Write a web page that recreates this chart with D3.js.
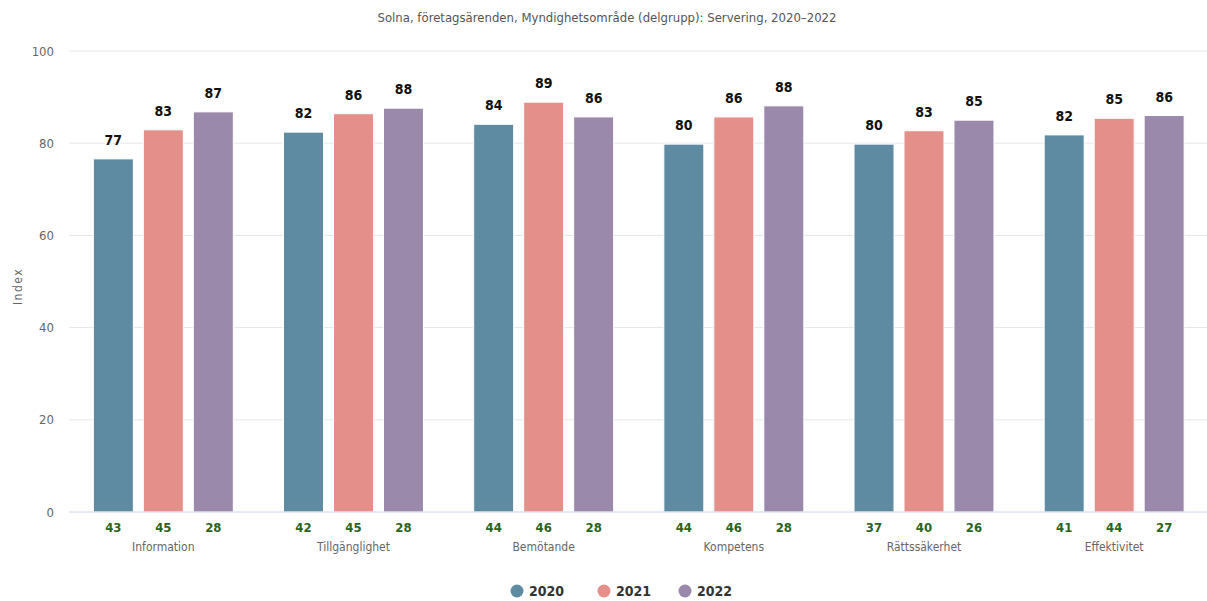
<!DOCTYPE html>
<html>
<head>
<meta charset="utf-8">
<script src="https://cdn.jsdelivr.net/npm/d3@7"></script>
<style>
  body { margin: 0; background: #fff; }
  text { font-family: "DejaVu Sans", sans-serif; font-stretch: condensed; }
</style>
</head>
<body>
<script>
// chart data
const categories = ["Information", "Tillgänglighet", "Bemötande", "Kompetens", "Rättssäkerhet", "Effektivitet"];
const years = ["2020", "2021", "2022"];
const values2020 = [76.6, 82.4, 84.1, 79.8, 79.8, 81.8];
const values2021 = [82.9, 86.4, 88.9, 85.7, 82.7, 85.4];
const values2022 = [86.8, 87.6, 85.7, 88.1, 85.0, 86.0];
const counts2020 = [43, 42, 44, 44, 37, 41];
const counts2021 = [45, 45, 46, 46, 40, 44];
const counts2022 = [28, 28, 28, 28, 26, 27];
const yTicks = [0, 20, 40, 60, 80, 100];
const colors = ["#5e8ba1", "#e58f8a", "#9b89ab"];

const seriesValues = [values2020, values2021, values2022];
const seriesCounts = [counts2020, counts2021, counts2022];

const width = 1207, height = 601;
const margin = { top: 51, right: -3, bottom: 89, left: 69 };
const plotW = width - margin.left - margin.right;
const plotH = height - margin.top - margin.bottom;

const svg = d3.select("body").append("svg")
    .attr("width", width)
    .attr("height", height);

// title
svg.append("text")
    .attr("x", 607)
    .attr("y", 22)
    .attr("text-anchor", "middle")
    .style("font-size", "13px")
    .style("fill", "#555")
    .text("Solna, företagsärenden, Myndighetsområde (delgrupp): Servering, 2020–2022");

const g = svg.append("g")
    .attr("transform", "translate(" + margin.left + "," + margin.top + ")");

const x0 = d3.scaleBand().domain(categories).range([0, plotW]);
const x1 = d3.scaleBand().domain(years)
    .range([x0.bandwidth() * 0.128, x0.bandwidth() * 0.864])
    .paddingInner(0.2);
const y = d3.scaleLinear().domain([0, 100]).range([plotH, 0]);

// grid lines
g.selectAll(".grid")
    .data(yTicks.filter(d => d > 0))
    .enter().append("line")
    .attr("x1", 0).attr("x2", plotW)
    .attr("y1", d => y(d)).attr("y2", d => y(d))
    .style("stroke", "#e6e6e6")
    .style("stroke-width", 1);

// y axis labels
g.selectAll(".ytick")
    .data(yTicks)
    .enter().append("text")
    .attr("x", -15)
    .attr("y", d => y(d))
    .attr("dy", "0.35em")
    .attr("text-anchor", "end")
    .style("font-size", "13px")
    .style("fill", "#666")
    .text(d => d);

// y axis title
svg.append("text")
    .attr("transform", "translate(22," + (margin.top + plotH / 2 + 5) + ") rotate(-90)")
    .attr("text-anchor", "middle")
    .style("font-size", "12px")
    .style("letter-spacing", "1.5px")
    .style("fill", "#666")
    .text("Index");

// bars
const rows = [];
categories.forEach((c, i) => {
    years.forEach((yr, j) => {
        rows.push({ cat: c, year: yr, value: seriesValues[j][i], count: seriesCounts[j][i], color: colors[j] });
    });
});

g.selectAll(".bar")
    .data(rows)
    .enter().append("rect")
    .attr("class", "bar")
    .attr("x", d => x0(d.cat) + x1(d.year))
    .attr("width", x1.bandwidth())
    .attr("y", d => y(d.value))
    .attr("height", d => plotH - y(d.value))
    .style("fill", d => d.color)
    .style("stroke", "#fff")
    .style("stroke-width", 1);

// value labels
g.selectAll(".vlabel")
    .data(rows)
    .enter().append("text")
    .attr("x", d => x0(d.cat) + x1(d.year) + x1.bandwidth() / 2)
    .attr("y", d => y(d.value) - 14)
    .attr("text-anchor", "middle")
    .style("font-size", "14px")
    .style("font-weight", "bold")
    .style("fill", "#111")
    .style("paint-order", "stroke")
    .style("stroke", "#fff")
    .style("stroke-width", 2)
    .text(d => Math.round(d.value));

// x axis line
g.append("line")
    .attr("x1", 0).attr("x2", plotW)
    .attr("y1", plotH).attr("y2", plotH)
    .style("stroke", "#ccd6eb")
    .style("stroke-width", 1);

// counts under bars
g.selectAll(".clabel")
    .data(rows)
    .enter().append("text")
    .attr("x", d => x0(d.cat) + x1(d.year) + x1.bandwidth() / 2)
    .attr("y", plotH + 20)
    .attr("text-anchor", "middle")
    .style("font-size", "13px")
    .style("font-weight", "bold")
    .style("fill", "#2b6420")
    .text(d => d.count);

// category labels
g.selectAll(".catlabel")
    .data(categories)
    .enter().append("text")
    .attr("x", d => x0(d) + x1("2021") + x1.bandwidth() / 2)
    .attr("y", plotH + 39)
    .attr("text-anchor", "middle")
    .style("font-size", "12px")
    .style("fill", "#666")
    .text(d => d);

// legend
const legendX = [517, 604, 685];
const legend = svg.selectAll(".legend")
    .data(years)
    .enter().append("g")
    .attr("transform", (d, i) => "translate(" + legendX[i] + ",591)");
legend.append("circle")
    .attr("r", 6.5)
    .style("fill", (d, i) => colors[i]);
legend.append("text")
    .attr("x", 12)
    .attr("dy", "0.35em")
    .style("font-size", "14px")
    .style("font-weight", "bold")
    .style("fill", "#333")
    .text(d => d);
</script>
</body>
</html>
